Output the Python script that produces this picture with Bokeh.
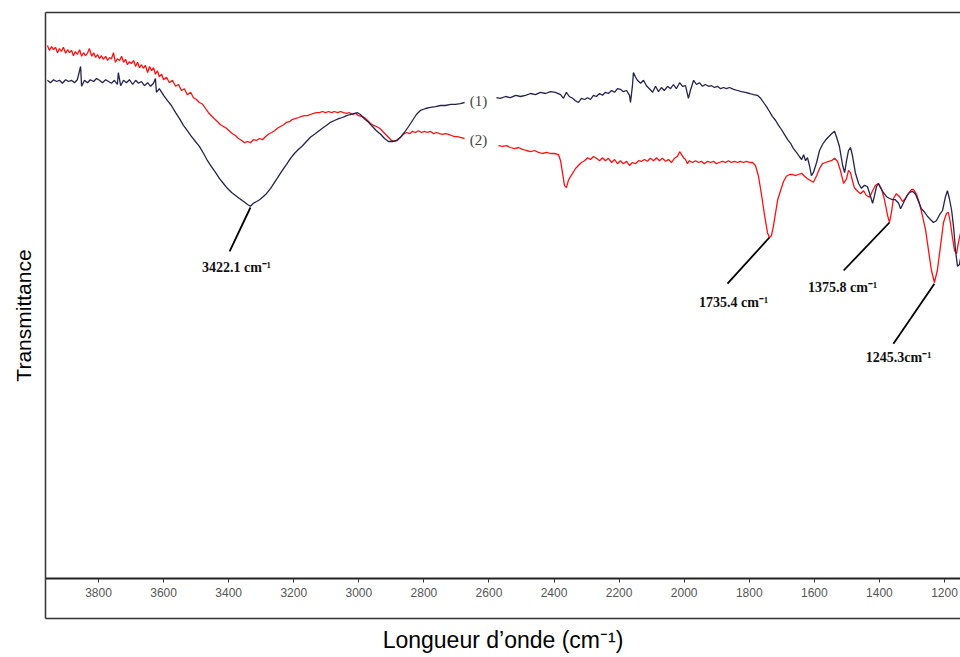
from bokeh.plotting import figure
from bokeh.models import Range1d, LinearAxis, FixedTicker, ColumnDataSource
from bokeh.core.properties import value
from bokeh.embed import file_html
from bokeh.resources import INLINE

nan = float("nan")

# ---- spectrum (1): navy ----
wn1 = [3957, 3948, 3938, 3929, 3920, 3911, 3901, 3892, 3883, 3874, 3865, 3855, 3852, 3843, 3834, 3825,
       3815, 3806, 3797, 3788, 3778, 3769, 3760, 3751, 3742, 3739, 3732, 3723, 3714, 3705, 3695, 3686,
       3677, 3668, 3659, 3649, 3640, 3631, 3625, 3622, 3613, 3600, 3588, 3576, 3563, 3551, 3539, 3527,
       3514, 3502, 3490, 3477, 3465, 3453, 3440, 3428, 3416, 3404, 3391, 3379, 3367, 3354, 3342, 3333,
       3324, 3314, 3305, 3296, 3284, 3271, 3259, 3247, 3235, 3222, 3210, 3198, 3185, 3173, 3161, 3149,
       3136, 3124, 3112, 3099, 3087, 3075, 3062, 3050, 3038, 3026, 3013, 3004, 2995, 2983, 2970, 2958,
       2946, 2933, 2921, 2909, 2897, 2884, 2872, 2860, 2847, 2835, 2823, 2810, 2795, 2780, 2764, 2749,
       2734, 2718, 2703, 2688, 2675, nan,
       2577, 2565, 2549, 2534, 2518, 2503, 2488, 2472, 2457, 2442, 2426, 2411, 2396, 2380, 2371, 2362,
       2353, 2343, 2334, 2325, 2316, 2306, 2297, 2288, 2279, 2270, 2260, 2251, 2242, 2233, 2223, 2214,
       2205, 2196, 2187, 2177, 2168, 2165, 2159, 2156, 2150, 2144, 2134, 2125, 2116, 2107, 2097, 2088,
       2079, 2070, 2061, 2051, 2042, 2033, 2024, 2014, 2005, 1996, 1987, 1981, 1971, 1962, 1953, 1944,
       1935, 1925, 1916, 1907, 1898, 1888, 1879, 1870, 1861, 1848, 1836, 1824, 1812, 1799, 1787, 1775,
       1765, 1756, 1747, 1738, 1729, 1719, 1710, 1701, 1692, 1682, 1673, 1664, 1655, 1646, 1639, 1633,
       1627, 1621, 1615, 1609, 1603, 1593, 1584, 1575, 1566, 1556, 1547, 1538, 1532, 1523, 1513, 1507,
       1501, 1495, 1489, 1483, 1474, 1464, 1455, 1446, 1437, 1427, 1421, 1415, 1409, 1403, 1397, 1388,
       1378, 1369, 1360, 1351, 1341, 1335, 1326, 1317, 1308, 1298, 1289, 1280, 1271, 1261, 1252, 1243,
       1234, 1225, 1215, 1206, 1197, 1191, 1185, 1178, 1172, 1166, 1160, 1154, 1151]
t1 = [86.7, 86.3, 86.8, 86.5, 86.7, 86.2, 86.8, 86.5, 86.7, 86.3, 86.8, 89.0, 85.7, 86.7, 86.3, 86.8,
      86.5, 87.0, 86.7, 86.3, 86.8, 86.5, 86.2, 86.7, 86.0, 88.0, 85.8, 86.7, 86.3, 86.8, 86.0, 86.7,
      86.2, 86.5, 85.8, 86.3, 85.7, 86.2, 87.0, 84.7, 85.3, 84.2, 83.3, 82.5, 81.3, 80.3, 79.2, 78.3,
      77.3, 76.5, 75.7, 74.5, 73.3, 72.3, 71.3, 70.3, 69.5, 68.7, 68.0, 67.5, 67.0, 66.5, 66.0, 65.7,
      66.2, 66.5, 66.8, 67.2, 67.8, 68.7, 69.7, 70.7, 71.7, 72.7, 73.7, 74.5, 75.2, 75.8, 76.5, 77.2,
      77.7, 78.2, 78.7, 79.2, 79.7, 80.0, 80.3, 80.5, 80.8, 81.0, 81.2, 81.3, 81.0, 80.3, 79.7, 79.0,
      78.3, 77.7, 77.0, 76.5, 76.5, 76.7, 77.2, 78.0, 79.0, 80.0, 81.0, 81.7, 82.0, 82.2, 82.3, 82.5,
      82.5, 82.7, 82.7, 82.8, 83.0, nan,
      83.8, 83.7, 84.0, 83.8, 84.2, 84.0, 84.2, 84.5, 84.3, 84.7, 84.5, 84.8, 84.7, 84.3, 83.7, 84.7,
      84.0, 83.7, 83.3, 83.0, 83.7, 83.5, 83.8, 83.5, 84.2, 84.0, 84.5, 84.2, 84.7, 84.5, 85.0, 84.7,
      85.3, 85.2, 84.8, 85.0, 84.2, 83.0, 85.8, 88.0, 87.3, 86.7, 86.2, 86.7, 85.8, 85.3, 84.7, 85.7,
      84.8, 85.5, 85.0, 85.7, 85.3, 86.0, 85.3, 86.3, 85.7, 85.8, 83.7, 85.0, 86.7, 86.0, 86.3, 85.7,
      86.0, 85.7, 85.8, 85.5, 85.7, 85.3, 85.5, 85.3, 85.5, 85.2, 85.0, 84.8, 84.7, 84.5, 84.3, 84.2,
      83.7, 83.0, 82.3, 81.5, 80.7, 80.0, 79.2, 78.5, 77.7, 76.8, 76.2, 75.3, 74.7, 74.0, 73.5, 74.3,
      73.3, 73.8, 72.5, 70.8, 71.3, 73.0, 75.0, 76.0, 76.7, 77.3, 77.8, 78.2, 77.3, 75.7, 72.5, 71.3,
      73.3, 75.0, 75.5, 74.2, 71.3, 69.5, 68.7, 69.2, 69.0, 67.3, 66.2, 67.5, 69.0, 69.5, 68.8, 68.0,
      67.3, 67.0, 66.8, 66.8, 66.2, 65.3, 66.3, 67.3, 68.0, 68.2, 67.7, 66.5, 65.3, 64.7, 64.0, 63.5,
      63.0, 63.3, 64.3, 65.0, 67.3, 68.3, 67.0, 65.0, 62.2, 58.3, 55.7, 56.0, 57.0]

# ---- spectrum (2): red ----
wn2 = [3957, 3951, 3944, 3938, 3932, 3926, 3920, 3914, 3908, 3901, 3895, 3889, 3883, 3877, 3871, 3865,
       3858, 3852, 3846, 3840, 3834, 3828, 3821, 3815, 3809, 3803, 3797, 3791, 3785, 3778, 3772, 3766,
       3760, 3754, 3748, 3742, 3735, 3729, 3723, 3717, 3711, 3705, 3699, 3692, 3686, 3680, 3674, 3668,
       3662, 3656, 3649, 3643, 3637, 3631, 3625, 3619, 3613, 3606, 3600, 3591, 3582, 3573, 3563, 3554,
       3545, 3536, 3527, 3517, 3508, 3499, 3490, 3480, 3471, 3462, 3453, 3444, 3434, 3425, 3416, 3407,
       3397, 3388, 3379, 3370, 3361, 3351, 3342, 3333, 3324, 3314, 3305, 3296, 3287, 3278, 3268, 3259,
       3250, 3241, 3231, 3222, 3213, 3204, 3195, 3185, 3176, 3167, 3158, 3149, 3139, 3130, 3121, 3112,
       3102, 3093, 3084, 3075, 3065, 3056, 3047, 3038, 3029, 3019, 3010, 3001, 2992, 2983, 2973, 2964,
       2955, 2946, 2936, 2927, 2918, 2909, 2900, 2890, 2881, 2872, 2863, 2853, 2844, 2835, 2826, 2817,
       2807, 2798, 2789, 2780, 2770, 2761, 2752, 2743, 2734, 2724, 2715, 2706, 2697, 2688, 2675, nan,
       2571, 2558, 2546, 2534, 2522, 2509, 2497, 2485, 2472, 2460, 2448, 2436, 2423, 2411, 2399, 2386,
       2380, 2374, 2368, 2362, 2356, 2349, 2343, 2334, 2325, 2316, 2306, 2297, 2288, 2279, 2270, 2260,
       2251, 2242, 2233, 2223, 2214, 2205, 2196, 2187, 2177, 2168, 2159, 2150, 2140, 2131, 2122, 2113,
       2104, 2094, 2085, 2076, 2067, 2057, 2048, 2039, 2030, 2021, 2014, 2008, 2002, 1996, 1990, 1984,
       1975, 1965, 1956, 1947, 1938, 1928, 1919, 1910, 1901, 1892, 1882, 1873, 1864, 1855, 1845, 1836,
       1827, 1818, 1809, 1799, 1790, 1781, 1772, 1762, 1753, 1744, 1738, 1732, 1726, 1719, 1713, 1704,
       1695, 1686, 1676, 1667, 1658, 1649, 1639, 1630, 1621, 1612, 1603, 1593, 1584, 1575, 1566, 1556,
       1547, 1538, 1529, 1520, 1510, 1501, 1495, 1489, 1483, 1477, 1467, 1458, 1449, 1440, 1430, 1421,
       1412, 1403, 1394, 1384, 1375, 1369, 1363, 1357, 1348, 1338, 1329, 1320, 1311, 1301, 1295, 1286,
       1277, 1268, 1258, 1249, 1240, 1231, 1222, 1212, 1203, 1194, 1188, 1182, 1175, 1169, 1163, 1157,
       1151]
t2 = [92.5, 91.7, 92.3, 91.8, 92.2, 91.3, 92.0, 91.5, 92.2, 91.2, 91.8, 91.3, 91.7, 90.8, 91.5, 91.0,
      91.8, 90.7, 91.3, 90.8, 91.2, 92.0, 90.7, 91.3, 90.5, 91.0, 90.3, 90.8, 90.2, 90.7, 90.0, 90.5,
      90.3, 91.3, 89.7, 90.3, 90.0, 90.7, 89.7, 90.2, 89.3, 89.8, 89.5, 90.0, 89.0, 89.7, 88.8, 89.3,
      88.7, 89.2, 88.0, 89.0, 88.3, 88.8, 87.7, 88.3, 87.3, 87.7, 86.8, 87.2, 86.3, 86.7, 85.7, 86.0,
      85.0, 85.3, 84.3, 84.7, 83.8, 83.5, 83.0, 82.7, 82.0, 81.3, 80.8, 80.3, 79.8, 79.3, 79.0, 78.7,
      78.2, 77.8, 77.5, 77.0, 76.7, 76.3, 76.5, 76.3, 76.8, 76.7, 77.0, 76.8, 77.3, 77.7, 78.0, 78.3,
      78.7, 79.0, 79.3, 79.7, 79.8, 80.2, 80.3, 80.5, 80.7, 80.8, 80.8, 81.0, 81.2, 81.3, 81.3, 81.5,
      81.3, 81.5, 81.3, 81.5, 81.3, 81.5, 81.3, 81.2, 81.3, 81.0, 81.2, 80.8, 80.7, 80.5, 80.0, 79.5,
      79.2, 79.0, 78.7, 78.2, 77.7, 77.2, 76.7, 76.5, 76.7, 77.2, 77.7, 78.0, 77.8, 78.2, 78.0, 78.3,
      78.0, 78.2, 78.0, 78.2, 77.8, 78.0, 77.8, 77.7, 77.8, 77.7, 77.5, 77.3, 77.3, 77.2, 77.0, nan,
      75.8, 75.7, 75.8, 75.5, 75.3, 75.5, 75.2, 75.0, 74.8, 75.0, 74.7, 74.5, 74.7, 74.5, 74.5, 74.3,
      73.3, 71.3, 69.2, 68.8, 70.0, 70.7, 71.2, 72.0, 72.5, 73.0, 73.3, 73.8, 73.5, 74.0, 73.7, 73.3,
      73.8, 73.3, 73.7, 73.0, 73.5, 72.8, 73.3, 72.8, 73.2, 72.5, 73.0, 72.8, 73.3, 73.2, 73.5, 73.2,
      73.7, 73.3, 73.8, 73.3, 73.7, 73.2, 73.5, 73.0, 73.7, 74.0, 74.8, 74.3, 73.8, 73.5, 72.8, 73.3,
      73.0, 73.3, 73.0, 73.2, 72.8, 73.2, 73.0, 73.2, 72.8, 73.0, 73.2, 73.0, 73.3, 73.0, 73.2, 73.0,
      73.2, 73.0, 73.2, 73.0, 73.0, 72.5, 70.8, 67.5, 64.2, 61.3, 60.5, 60.8, 62.3, 64.7, 66.7, 68.3,
      69.8, 70.7, 71.0, 71.0, 70.8, 71.0, 71.2, 70.7, 70.3, 70.0, 69.7, 70.8, 72.0, 72.8, 73.0, 73.2,
      73.3, 73.7, 73.2, 71.7, 69.5, 70.3, 71.7, 71.3, 70.0, 68.8, 68.2, 67.8, 68.3, 67.5, 67.2, 68.3,
      69.2, 69.5, 68.7, 66.7, 64.2, 63.0, 64.7, 67.0, 67.8, 67.3, 66.5, 67.0, 67.8, 68.5, 68.5, 67.7,
      66.2, 64.2, 61.7, 58.3, 55.0, 53.0, 55.0, 59.2, 63.0, 64.5, 64.7, 63.0, 60.3, 58.3, 57.8, 59.7,
      61.2]

# ---- annotations ----
peak_labels = ["3422.1 cm\u207b\u00b9", "1735.4 cm\u207b\u00b9", "1375.8 cm\u207b\u00b9", "1245.3cm\u207b\u00b9"]
peak_wn = [3333, 1738, 1369, 1231]
peak_t = [65.5, 60.5, 63.0, 52.8]
leader_wn = [3397, 1867, 1510, 1357]
leader_t = [58.2, 52.8, 55.0, 42.8]
label_wn = [3376, 1848, 1513, 1341]
label_t = [55.5, 49.7, 52.2, 40.5]

curve_names = ["(1)", "(2)"]
curve_name_wn = [2632, 2632]
curve_name_t = [83.3, 76.8]

x_ticks = [3800, 3600, 3400, 3200, 3000, 2800, 2600, 2400, 2200, 2000, 1800, 1600, 1400, 1200]

p = figure(frame_width=915, frame_height=606,
           x_range=Range1d(3962.9, 1150.8), y_range=Range1d(-3.0, 98.0),
           output_backend="svg", toolbar_location=None,
           min_border_left=45, min_border_top=12, min_border_right=0, min_border_bottom=10)
p.background_fill_color = "white"
p.outline_line_color = None
p.xgrid.visible = False
p.ygrid.visible = False

# left axis: label only, plus frame line
ya = p.yaxis[0]
ya.ticker = FixedTicker(ticks=[])
ya.major_label_text_font_size = "0px"
ya.major_label_standoff = 0
ya.major_tick_line_color = None
ya.minor_tick_line_color = None
ya.axis_line_color = "#333333"
ya.axis_line_width = 1.5
ya.axis_label = "Transmittance"
ya.axis_label_text_font = "Liberation Sans"
ya.axis_label_text_font_style = "normal"
ya.axis_label_text_font_size = "21px"
ya.axis_label_text_color = "black"
ya.axis_label_standoff = 11

# bottom axis: box bottom line + axis title
xa = p.xaxis[0]
xa.ticker = FixedTicker(ticks=[])
xa.major_label_text_font_size = "0px"
xa.major_label_standoff = 0
xa.major_tick_line_color = None
xa.minor_tick_line_color = None
xa.axis_line_color = "#333333"
xa.axis_line_width = 1.5
xa.axis_label = "Longueur d\u2019onde (cm\u207b\u00b9)"
xa.axis_label_text_font = "Liberation Sans"
xa.axis_label_text_font_style = "normal"
xa.axis_label_text_font_size = "23px"
xa.axis_label_text_color = "black"
xa.axis_label_standoff = 8

# top frame line
top = LinearAxis(ticker=FixedTicker(ticks=[]), major_label_text_font_size="0px",
                 major_label_standoff=0, major_tick_line_color=None, minor_tick_line_color=None,
                 axis_line_color="#333333", axis_line_width=1.5)
p.add_layout(top, "above")

# tick axis inside the box
tick_axis = LinearAxis(ticker=FixedTicker(ticks=x_ticks), fixed_location=3.67,
                       axis_line_color="#222222", axis_line_width=1.8,
                       major_tick_line_color="#333333", major_tick_in=0, major_tick_out=4,
                       minor_tick_line_color=None,
                       major_label_text_font="Liberation Sans",
                       major_label_text_font_size="12px", major_label_text_color="#555555",
                       major_label_standoff=6)
p.add_layout(tick_axis, "below")

src1 = ColumnDataSource(dict(x=wn1, y=t1))
src2 = ColumnDataSource(dict(x=wn2, y=t2))
p.line("x", "y", source=src2, line_color="#ff1010", line_width=1.3)
p.line("x", "y", source=src1, line_color="#23234f", line_width=1.3)

p.segment(x0=peak_wn, y0=peak_t, x1=leader_wn, y1=leader_t, line_color="black", line_width=1.8)
p.text(x=label_wn, y=label_t, text=peak_labels, text_font=value("Liberation Serif"),
       text_font_style="bold", text_font_size="14px", text_align="center",
       text_baseline="middle", text_color="#111111")
p.text(x=curve_name_wn, y=curve_name_t, text=curve_names, text_font=value("Liberation Serif"),
       text_font_size="15px", text_align="center", text_baseline="middle", text_color="#444444")

open("out.html", "w").write(file_html(p, INLINE))
